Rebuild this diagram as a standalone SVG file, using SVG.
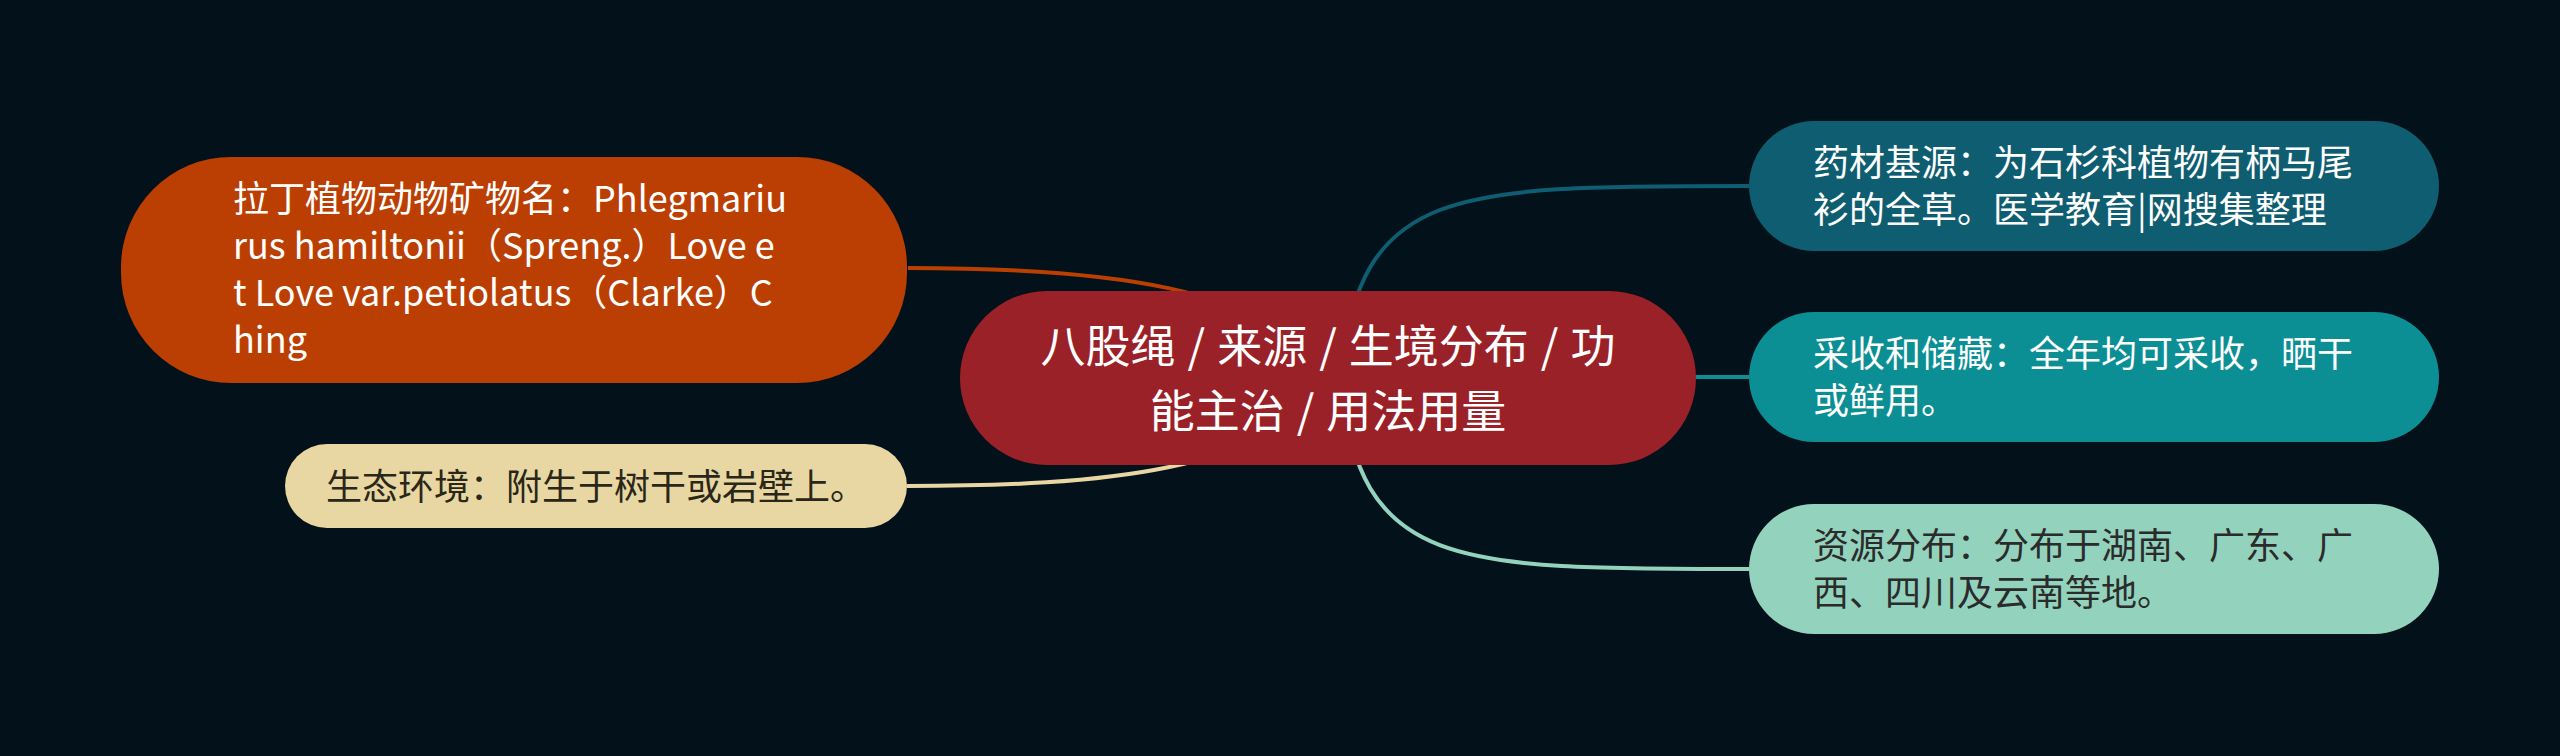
<svg xmlns="http://www.w3.org/2000/svg" width="2560" height="756" viewBox="0 0 2560 756">
<style>
text{font-family:"Noto Sans CJK SC","Noto Sans",sans-serif;}
.t36{font-size:36px;}
.light{fill:#ffffff;}
.dark{fill:#2b2b2b;}
.conn{fill:none;stroke-width:4;}
</style>
<rect x="0" y="0" width="2560" height="756" fill="#03111a"/>
<g id="connectors">
<path class="conn" stroke="#bb3f02" d="M908 268 C1100 268 1270 285 1328 378"/>
<path class="conn" stroke="#e8d7a3" d="M907 486 C1100 486 1270 472 1328 378"/>
<path class="conn" stroke="#0f5d70" d="M1340 378 C1360 186 1450 186 1749 186"/>
<path class="conn" stroke="#0c8f94" d="M1328 377 L1749 377"/>
<path class="conn" stroke="#93d3be" d="M1340 378 C1360 569 1450 569 1749 569"/>
</g>
<g id="root">
<rect x="960" y="291" width="736" height="174" rx="87" fill="#9b2128"/>
<text x="1328" y="363" text-anchor="middle" font-size="45" fill="#ffffff">八股绳<tspan dx="12">/</tspan><tspan dx="12">来源</tspan><tspan dx="12">/</tspan><tspan dx="12">生境分布</tspan><tspan dx="12">/</tspan><tspan dx="12">功</tspan></text>
<text x="1328" y="428" text-anchor="middle" font-size="45" fill="#ffffff">能主治<tspan dx="12">/</tspan><tspan dx="12">用法用量</tspan></text>
</g>
<g id="latin-name">
<rect x="121" y="157" width="786" height="226" rx="110" fill="#bb3f02"/>
<text class="t36 light" x="233" y="212">拉丁植物动物矿物名：Phlegmariu</text>
<text class="t36 light" x="233" y="259">rus hamiltonii（Spreng.）Love e</text>
<text class="t36 light" x="233" y="306">t Love var.petiolatus（Clarke）C</text>
<text class="t36 light" x="233" y="353">hing</text>
</g>
<g id="ecology">
<rect x="285" y="444" width="622" height="84" rx="42" fill="#e8d7a3"/>
<text class="t36" x="326" y="500" fill="#2a2718">生态环境：附生于树干或岩壁上。</text>
</g>
<g id="source">
<rect x="1749" y="121" width="690" height="130" rx="65" fill="#0f5d70"/>
<text class="t36 light" x="1813" y="176">药材基源：为石杉科植物有柄马尾</text>
<text class="t36 light" x="1813" y="223">衫的全草。医学教育|网搜集整理</text>
</g>
<g id="harvest">
<rect x="1749" y="312" width="690" height="130" rx="65" fill="#0c8f94"/>
<text class="t36 light" x="1813" y="367">采收和储藏：全年均可采收，晒干</text>
<text class="t36 light" x="1813" y="414">或鲜用。</text>
</g>
<g id="distribution">
<rect x="1749" y="504" width="690" height="130" rx="65" fill="#93d3be"/>
<text class="t36 dark" x="1813" y="559">资源分布：分布于湖南、广东、广</text>
<text class="t36 dark" x="1813" y="606">西、四川及云南等地。</text>
</g>
</svg>
